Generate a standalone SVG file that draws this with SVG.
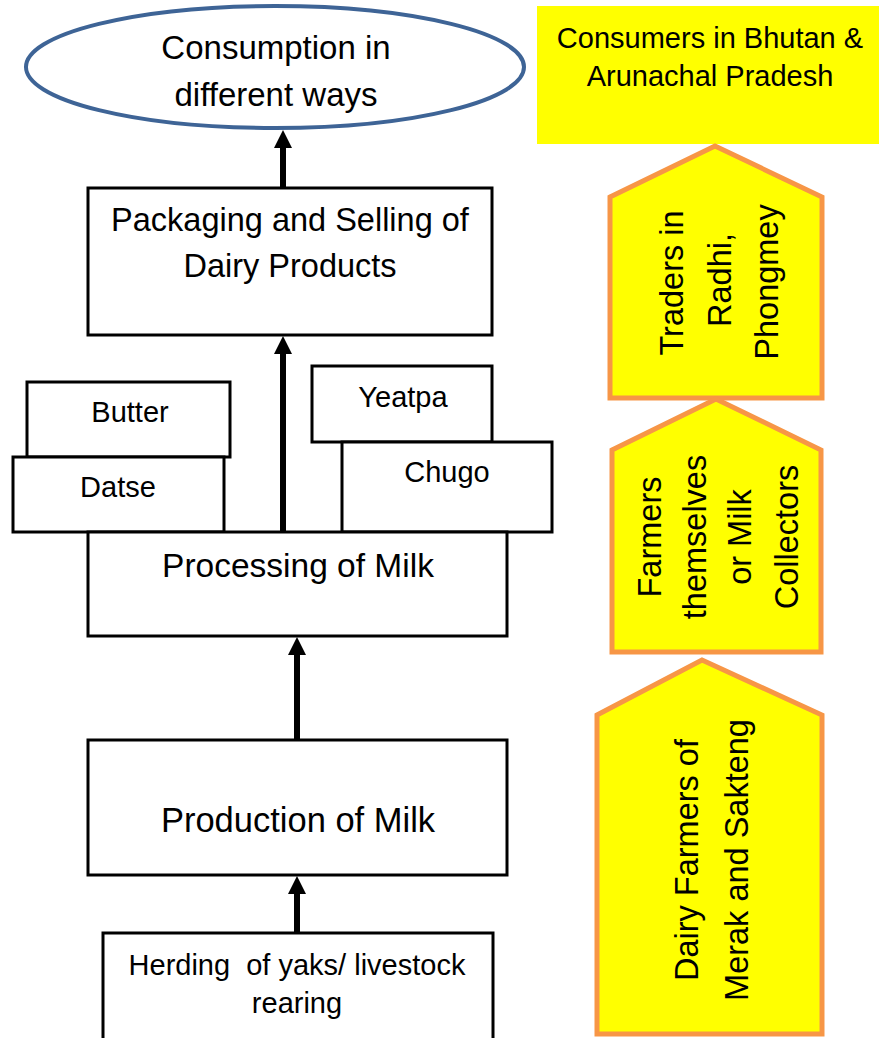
<svg xmlns="http://www.w3.org/2000/svg" width="879" height="1038" viewBox="0 0 879 1038">
<style>
text{font-family:"Liberation Sans",Arial,sans-serif;fill:#000;text-anchor:middle;dominant-baseline:central}
.box{fill:#fff;stroke:#000;stroke-width:3}
.small{font-size:29px}
.vert{font-size:32.5px}
.penta{fill:#FFFF00;stroke:#F79646;stroke-width:5;stroke-linejoin:miter}
.conn{stroke:#000;stroke-width:6;fill:none}
.head{fill:#000}
</style>
<rect x="0" y="0" width="879" height="1038" fill="#fff"/>

<g id="consumption">
<ellipse cx="275" cy="67" rx="249" ry="61" fill="#fff" stroke="#3E6496" stroke-width="4"/>
<text x="276" y="47" font-size="33">Consumption in</text>
<text x="276" y="94" font-size="33">different ways</text>
</g>

<g id="packaging">
<rect class="box" x="88" y="188" width="404" height="147"/>
<text x="290" y="220" font-size="32.5">Packaging and Selling of</text>
<text x="290" y="266" font-size="32.5">Dairy Products</text>
</g>

<g id="butter">
<rect class="box" x="27" y="382" width="203" height="75"/>
<text class="small" x="130" y="412">Butter</text>
</g>
<g id="datse">
<rect class="box" x="13" y="457" width="211" height="75"/>
<text class="small" x="118" y="487">Datse</text>
</g>
<g id="yeatpa">
<rect class="box" x="312" y="366" width="180" height="76"/>
<text class="small" x="403" y="397">Yeatpa</text>
</g>
<g id="chugo">
<rect class="box" x="342" y="442" width="210" height="90"/>
<text class="small" x="447" y="472">Chugo</text>
</g>

<g id="processing">
<rect class="box" x="88" y="532" width="419" height="104"/>
<text x="298" y="565" font-size="33.5">Processing of Milk</text>
</g>

<g id="production">
<rect class="box" x="88" y="740" width="419" height="135"/>
<text x="298" y="820" font-size="34.5">Production of Milk</text>
</g>

<g id="herding">
<rect class="box" x="103" y="933" width="390" height="110"/>
<text class="small" x="297" y="965" xml:space="preserve">Herding  of yaks/ livestock</text>
<text class="small" x="297" y="1003">rearing</text>
</g>

<g id="consumers">
<rect x="537" y="6" width="342" height="138" fill="#FFFF00"/>
<text class="small" x="710" y="38">Consumers in Bhutan &amp;</text>
<text class="small" x="710" y="76">Arunachal Pradesh</text>
</g>

<g id="traders">
<polygon class="penta" points="610,197 715,146 822,197 822,398 610,398"/>
<text class="vert" x="672" y="283" transform="rotate(-90 672 283)">Traders in</text>
<text class="vert" x="720" y="280" transform="rotate(-90 720 280)">Radhi,</text>
<text class="vert" x="767" y="282" transform="rotate(-90 767 282)">Phongmey</text>
</g>

<g id="farmers">
<polygon class="penta" points="612,450 716,399 821,450 821,652 612,652"/>
<text class="vert" x="650" y="537" transform="rotate(-90 650 537)">Farmers</text>
<text class="vert" x="695" y="537" transform="rotate(-90 695 537)">themselves</text>
<text class="vert" x="740" y="537" transform="rotate(-90 740 537)">or Milk</text>
<text class="vert" x="787" y="537" transform="rotate(-90 787 537)">Collectors</text>
</g>

<g id="dairy-farmers">
<polygon class="penta" points="597,715 702,660 822,715 822,1034 597,1034"/>
<text class="vert" x="687" y="860" transform="rotate(-90 687 860)">Dairy Farmers of</text>
<text class="vert" x="737" y="860" transform="rotate(-90 737 860)">Merak and Sakteng</text>
</g>

<g id="connectors">
<line class="conn" x1="283" y1="187" x2="283" y2="146"/>
<polygon class="head" points="283,130 292,148 274,148"/>
<line class="conn" x1="283" y1="531" x2="283" y2="352"/>
<polygon class="head" points="283,336 292,354 274,354"/>
<line class="conn" x1="297" y1="740" x2="297" y2="653"/>
<polygon class="head" points="297,637 306,655 288,655"/>
<line class="conn" x1="297" y1="933" x2="297" y2="892"/>
<polygon class="head" points="297,876 306,894 288,894"/>
</g>
</svg>
